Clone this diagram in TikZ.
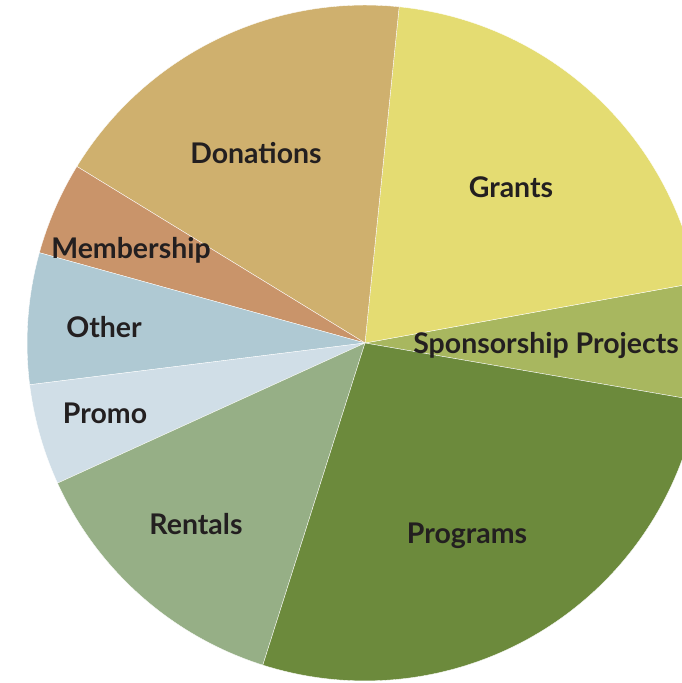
\documentclass[tikz,border=0pt]{standalone}
\usepackage{fontspec}
\setmainfont{Lato}
\definecolor{grants}{HTML}{E4DC72}
\definecolor{donations}{HTML}{CFB06E}
\definecolor{membership}{HTML}{C9946A}
\definecolor{other}{HTML}{AFC9D3}
\definecolor{promo}{HTML}{D0DEE7}
\definecolor{rentals}{HTML}{96AF86}
\definecolor{programs}{HTML}{6C8A3C}
\definecolor{sponsor}{HTML}{A8B75F}
\definecolor{labeltext}{HTML}{231F20}
\tikzset{lbl/.style={anchor=base,inner sep=0pt,text=labeltext,font=\fontsize{16.2}{18}\selectfont\bfseries}}

\begin{document}
\begin{tikzpicture}[x=0.02cm,y=0.02cm]
\useasboundingbox (0,0) rectangle (682,683); \clip (0,0) rectangle (682,683);
\coordinate (c) at (365,340);
\foreach \a/\b/\col in {-9.8/10.3/sponsor, 10.3/84.2/grants, 84.2/148.5/donations, 148.5/164.5/membership, 164.5/187.1/other, 187.1/204.5/promo, 204.5/252.4/rentals, 252.4/350.2/programs} { \filldraw[fill=\col,draw=white,line width=0.2pt] (c) -- ++(\a:6.76cm) arc[start angle=\a, end angle=\b, radius=6.76cm] -- cycle; };
\node[lbl] (donations) at (256,519) {Donations}; \node[lbl] (grants) at (511,485) {Grants};
\node[lbl] (membership) at (131,424) {Membership}; \node[lbl] (other) at (104,345) {Other};
\node[lbl,anchor=base west] (sponsor) at (413,329) {Sponsorship Projects};
\node[lbl] (promo) at (105,259) {Promo}; \node[lbl] (rentals) at (196,148) {Rentals}; \node[lbl] (programs) at (467,139) {Programs};
\end{tikzpicture}
\end{document}
